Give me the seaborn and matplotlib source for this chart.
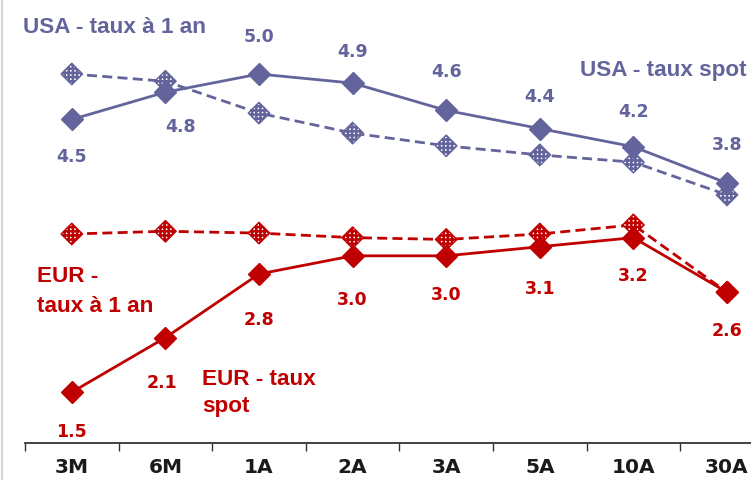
import numpy as np
import pandas as pd
import matplotlib
matplotlib.use("Agg")
import matplotlib.pyplot as plt
from matplotlib.lines import Line2D
import seaborn as sns

# Maturities and rates (%)
maturities = ["3M", "6M", "1A", "2A", "3A", "5A", "10A", "30A"]
usa_spot = [4.5, 4.8, 5.0, 4.9, 4.6, 4.4, 4.2, 3.8]
usa_fwd = [5.0, 4.92, 4.57, 4.35, 4.21, 4.11, 4.03, 3.67]
eur_spot = [1.5, 2.1, 2.8, 3.0, 3.0, 3.1, 3.2, 2.6]
eur_fwd = [3.24, 3.27, 3.25, 3.20, 3.18, 3.24, 3.34, 2.60]

USA_COLOR = "#64649c"
EUR_COLOR = "#c00000"

sns.set_theme(style="white")
plt.rcParams["hatch.linewidth"] = 1.8

W, H = 751, 480
AXIS_Y = 443          # pixel row of the category axis (from top)
LEFT = 25             # pixel column where the axis starts
STEP = 93.6           # pixels per category

fig = plt.figure(figsize=(W / 100, H / 100), dpi=100)
ax = fig.add_axes([LEFT / W, (H - AXIS_Y) / H, 1 - LEFT / W, AXIS_Y / H])

pos = np.arange(len(maturities))
df = pd.DataFrame({"pos": pos, "usa_spot": usa_spot, "usa_fwd": usa_fwd,
                   "eur_spot": eur_spot, "eur_fwd": eur_fwd})

DASH = (0, (3.6, 1.9))

# forward (1-year) curves: dashed lines with hatched diamonds
for col, color in (("usa_fwd", USA_COLOR), ("eur_fwd", EUR_COLOR)):
    sns.lineplot(data=df, x="pos", y=col, color=color, linewidth=2.0,
                 linestyle=DASH, ax=ax, zorder=2)
    with plt.rc_context({"hatch.color": color}):
        sns.scatterplot(data=df, x="pos", y=col, marker="D", s=120,
                        color="white", edgecolor=color, linewidth=1.0,
                        hatch="++++", ax=ax, zorder=3)

# spot curves: solid lines with filled diamonds
for col, color in (("usa_spot", USA_COLOR), ("eur_spot", EUR_COLOR)):
    sns.lineplot(data=df, x="pos", y=col, color=color, linewidth=2.0,
                 marker="D", markersize=11, markeredgecolor=color,
                 markerfacecolor=color, markeredgewidth=1.0, ax=ax, zorder=4)

# value labels on the spot curves
usa_offsets = [(0, -38), (15, -35), (0, 37), (0, 31), (0, 38), (0, 32), (0, 35), (0, 38)]
eur_offsets = [(0, -40), (-3, -45), (0, -46), (0, -44), (0, -39), (0, -42), (0, -38), (0, -39)]
label_font = dict(fontsize=12.5, fontweight="bold", family="DejaVu Sans",
                  ha="center", va="center", textcoords="offset pixels")
for i, v in enumerate(usa_spot):
    ax.annotate(f"{v:.1f}", (pos[i], v), xytext=usa_offsets[i],
                color=USA_COLOR, **label_font)
for i, v in enumerate(eur_spot):
    ax.annotate(f"{v:.1f}", (pos[i], v), xytext=eur_offsets[i],
                color=EUR_COLOR, **label_font)

# series names
name_font = dict(fontsize=16.2, fontweight="bold",
                 family=["Liberation Sans Narrow", "Liberation Sans", "DejaVu Sans"],
                 va="baseline", xycoords="figure pixels")
ax.annotate("USA - taux à 1 an", (23, H - 33), ha="left", color=USA_COLOR, **name_font)
ax.annotate("USA - taux spot", (747, H - 76), ha="right", color=USA_COLOR, **name_font)
ax.annotate("EUR -", (37, H - 282), ha="left", color=EUR_COLOR, **name_font)
ax.annotate("taux à 1 an", (37, H - 312), ha="left", color=EUR_COLOR, **name_font)
ax.annotate("EUR - taux", (202, H - 385), ha="left", color=EUR_COLOR, **name_font)
ax.annotate("spot", (202, H - 412), ha="left", color=EUR_COLOR, **name_font)

# category axis: labels at the centres, small ticks between categories
ax.set_xticks(pos)
ax.set_xticklabels(maturities, fontsize=14.5, fontweight="bold",
                   family="DejaVu Sans", color="#1a1a1a")
ax.set_xticks(np.arange(-0.5, len(maturities) + 0.5, 1), minor=True)
ax.tick_params(axis="x", which="major", length=0, pad=10.5)
ax.tick_params(axis="x", which="minor", length=6, width=1.0, color="#333333",
               direction="out", bottom=True)
ax.set_yticks([])
ax.set_xlabel("")
ax.set_ylabel("")
ax.set_xlim(-0.5, -0.5 + (W - LEFT) / STEP)
ax.set_ylim(0.941, 5.814)
for side in ("left", "top", "right"):
    ax.spines[side].set_visible(False)
ax.spines["bottom"].set_color("#333333")
ax.spines["bottom"].set_linewidth(1.3)
ax.patch.set_alpha(0)

# thin grey frame line on the left edge
fig.add_artist(Line2D([1.5 / W, 1.5 / W], [0, 1], color="#d6d6d6",
                      linewidth=1.5, transform=fig.transFigure))

fig.savefig("out.png", dpi=100)
